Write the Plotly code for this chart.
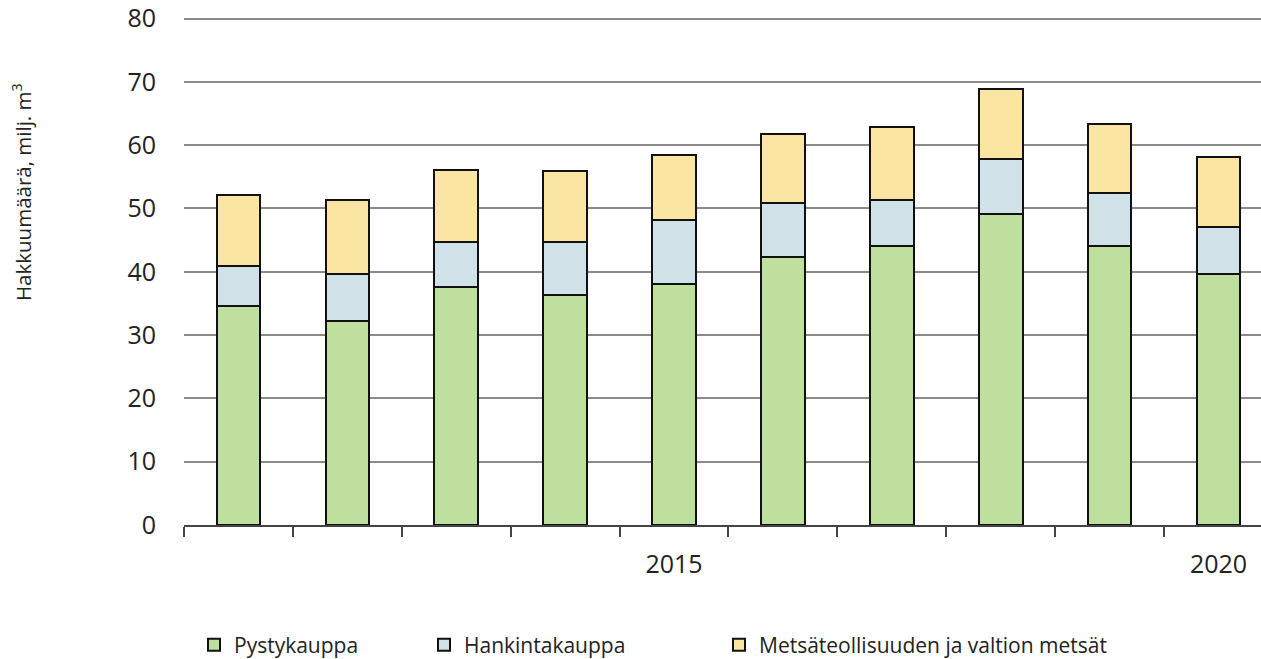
import plotly.graph_objects as go

years = ["2011", "2012", "2013", "2014", "2015", "2016", "2017", "2018", "2019", "2020"]
tick_labels = ["", "", "", "", "2015", "", "", "", "", "2020"]
pystykauppa = [34.6, 32.2, 37.6, 36.4, 38.0, 42.3, 44.0, 49.1, 44.0, 39.6]
hankintakauppa = [6.3, 7.4, 7.1, 8.3, 10.1, 8.5, 7.4, 8.7, 8.5, 7.4]
metsateollisuus = [11.3, 11.8, 11.3, 11.2, 10.4, 10.9, 11.4, 11.0, 10.8, 11.2]

series = [
    ("Pystykauppa", pystykauppa, "#BEDF9D", "legend", 194),
    ("Hankintakauppa", hankintakauppa, "#D0E2E8", "legend2", 424),
    ("Metsäteollisuuden ja valtion metsät", metsateollisuus, "#FAE5A3", "legend3", 719),
]

W, H = 1261, 659
ML, MT, MB = 184, 16, 134
PW = W - ML
PH = H - MT - MB

fig = go.Figure()
for name, vals, col, lg, _ in series:
    fig.add_trace(go.Bar(
        x=years, y=vals, name=name, legend=lg,
        marker=dict(color=col, line=dict(color="#111111", width=2)),
        width=0.4,
    ))

font_main = "Open Sans, DejaVu Sans, sans-serif"
legend_common = dict(orientation="h", xref="paper", yref="container", yanchor="middle",
                     y=1 - 645 / H,
                     font=dict(family=font_main, size=21, color="#222"),
                     bgcolor="rgba(0,0,0,0)", itemwidth=30)
layout_legends = {}
for name, vals, col, lg, xpos in series:
    layout_legends[lg] = dict(x=(xpos - ML) / PW, **legend_common)

fig.update_layout(
    width=W, height=H,
    margin=dict(l=ML, r=0, t=MT, b=MB),
    barmode="stack",
    plot_bgcolor="white", paper_bgcolor="white",
    font=dict(family=font_main, size=25, color="#222"),
    xaxis=dict(
        type="category",
        range=[-0.5, 9.39],
        tickmode="array", tickvals=years, ticktext=tick_labels,
        tickson="boundaries", ticks="outside", ticklen=10, tickcolor="#444", tickwidth=1.5,
        showline=True, linecolor="#444", linewidth=1.5,
        showgrid=False,
        ticklabelstandoff=16,
        tickfont=dict(family=font_main, size=25, color="#222"),
    ),
    yaxis=dict(
        range=[0, 80.4], tickvals=[0, 10, 20, 30, 40, 50, 60, 70, 80],
        showgrid=True, gridcolor="#8a8a8a", gridwidth=1.5,
        zeroline=False, showline=False, ticks="",
        ticklabelstandoff=27,
        tickfont=dict(family=font_main, size=25, color="#222"),
    ),
    showlegend=True,
    **layout_legends,
)

fig.add_annotation(
    text="Hakkuumäärä, milj. m<sup>3</sup>", textangle=-90,
    xref="paper", yref="paper", x=(22 - ML) / PW, y=(525 - 192) / PH,
    xanchor="center", yanchor="middle", showarrow=False,
    font=dict(family=font_main, size=20.5, color="#222"),
)

fig.write_html("out.html", config={"displayModeBar": False},
               post_script="document.body.style.margin='0';")
